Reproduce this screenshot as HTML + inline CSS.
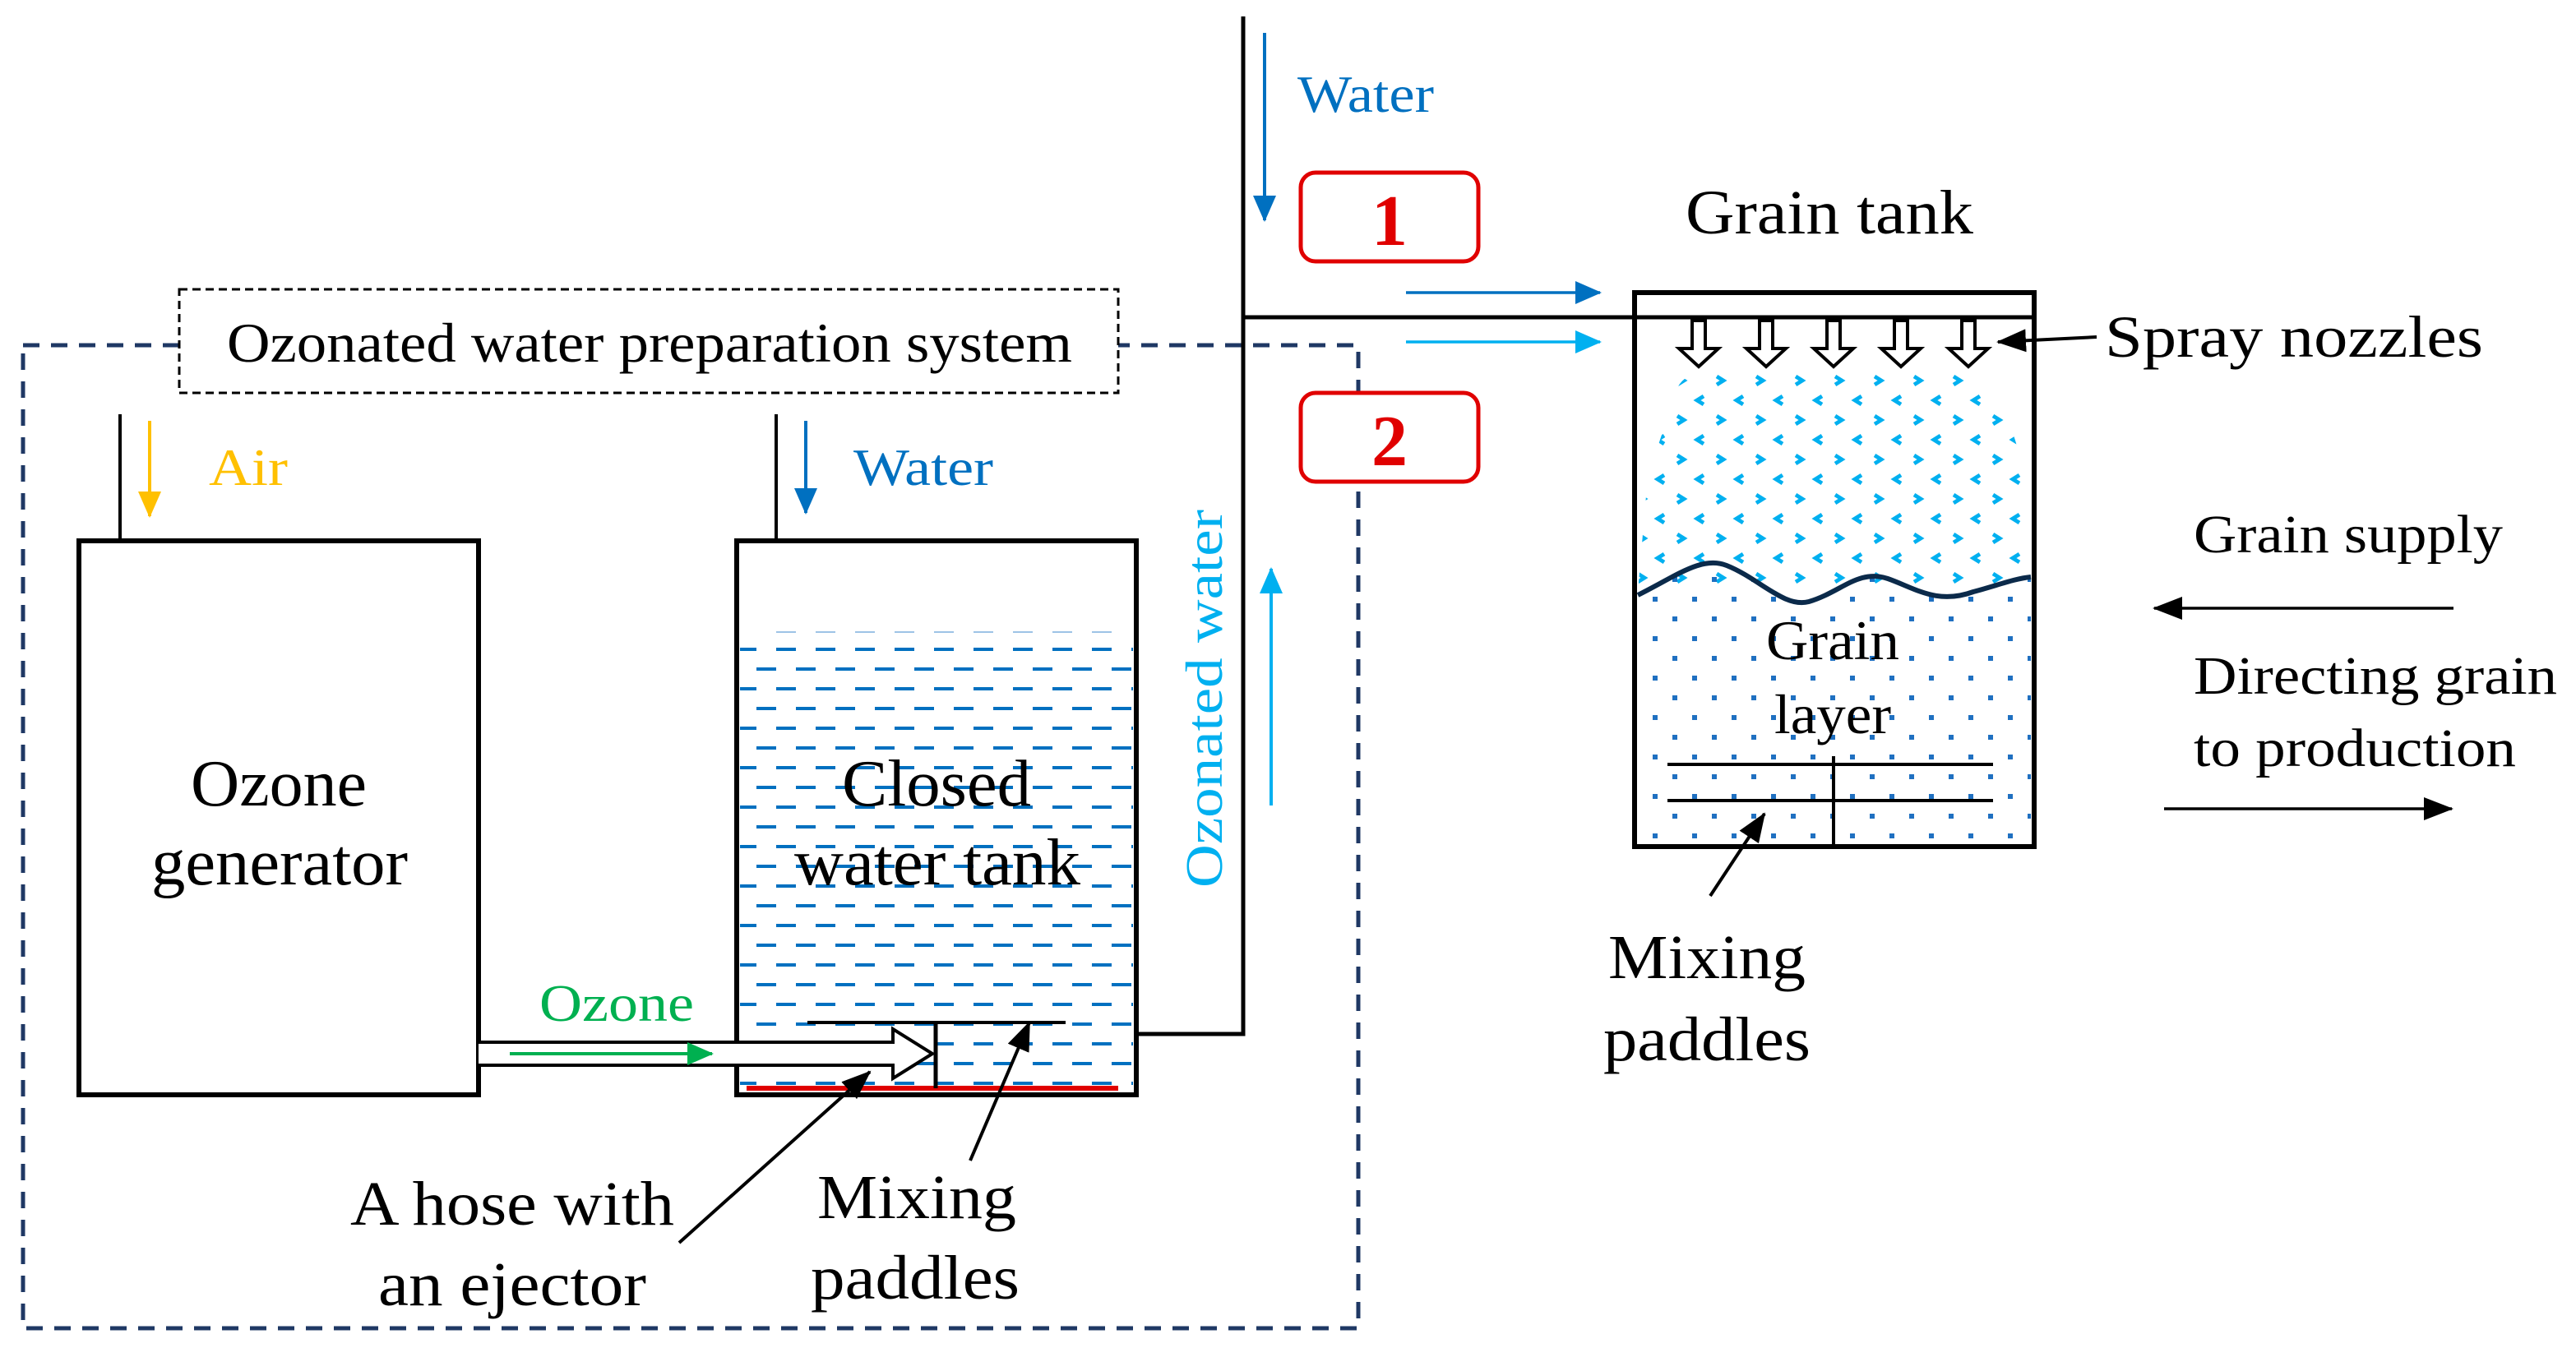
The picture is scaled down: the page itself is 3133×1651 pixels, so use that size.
<!DOCTYPE html>
<html><head><meta charset="utf-8"><style>html,body{margin:0;padding:0;background:#fff}svg{display:block}</style></head>
<body>
<svg width="3133" height="1651" viewBox="0 0 1566.5 825.5" xmlns="http://www.w3.org/2000/svg" font-family="Liberation Serif, serif" lengthAdjust="spacingAndGlyphs">
<defs>
<marker id="ab" markerWidth="16" markerHeight="14" refX="15" refY="7" orient="auto" markerUnits="userSpaceOnUse" viewBox="0 0 16 14"><path d="M0,0L16,7L0,14z" fill="#0070c0"/></marker>
<marker id="al" markerWidth="16" markerHeight="14" refX="15" refY="7" orient="auto" markerUnits="userSpaceOnUse" viewBox="0 0 16 14"><path d="M0,0L16,7L0,14z" fill="#00b0f0"/></marker>
<marker id="ao" markerWidth="16" markerHeight="14" refX="15" refY="7" orient="auto" markerUnits="userSpaceOnUse" viewBox="0 0 16 14"><path d="M0,0L16,7L0,14z" fill="#ffc000"/></marker>
<marker id="ag" markerWidth="16" markerHeight="14" refX="15" refY="7" orient="auto" markerUnits="userSpaceOnUse" viewBox="0 0 16 14"><path d="M0,0L16,7L0,14z" fill="#00b050"/></marker>
<marker id="ak" markerWidth="18" markerHeight="14" refX="17" refY="7" orient="auto" markerUnits="userSpaceOnUse" viewBox="0 0 18 14"><path d="M0,0L18,7L0,14z" fill="#000"/></marker>
<pattern id="wd" x="448" y="394" width="24" height="24" patternUnits="userSpaceOnUse">
<rect x="0" y="0" width="12" height="2" fill="#0070c0"/><rect x="12" y="12" width="12" height="2" fill="#0070c0"/>
</pattern>
<pattern id="sp" x="994" y="228" width="24" height="24" patternUnits="userSpaceOnUse">
<path d="M2,1l4,2.5l-4,2.5" stroke="#00b0f0" stroke-width="2.4" fill="none"/><path d="M18,13l-4,2.5l4,2.5" stroke="#00b0f0" stroke-width="2.4" fill="none"/>
</pattern>
<pattern id="gd" x="994" y="360" width="24" height="24" patternUnits="userSpaceOnUse">
<rect x="11" y="3" width="3" height="3" fill="#1f70c1"/><rect x="23" y="15" width="3" height="3" fill="#1f70c1"/><rect x="-1" y="15" width="3" height="3" fill="#1f70c1"/>
</pattern>
<clipPath id="spc"><path d="M1020,236 Q1025,226 1040,226 L1200,226 Q1225,245 1232,300 L1235,355 L996,360 L1002,290 Z"/></clipPath>
<clipPath id="gdc"><path d="M996,362 C1020,350 1035,338 1050,344 C1070,352 1085,370 1100,366 C1120,360 1130,346 1148,352 C1165,358 1178,368 1200,360 C1215,356 1225,352 1235,351 L1235,513 L996,513 Z"/></clipPath>
</defs>

<rect x="14" y="210" width="812" height="598" fill="none" stroke="#1f3864" stroke-width="2.5" stroke-dasharray="10,7"/>
<rect x="109" y="176" width="571" height="63" fill="#fff" stroke="#000" stroke-width="1.5" stroke-dasharray="5,3"/>
<text x="138" y="220" font-size="34" textLength="514" lengthAdjust="spacingAndGlyphs">Ozonated water preparation system</text>

<line x1="73" y1="252" x2="73" y2="329" stroke="#000" stroke-width="2"/>
<line x1="91" y1="256" x2="91" y2="314" stroke="#ffc000" stroke-width="2" marker-end="url(#ao)"/>
<text x="127" y="295" font-size="32" fill="#ffc000" textLength="48" lengthAdjust="spacingAndGlyphs">Air</text>
<rect x="48" y="329" width="243" height="337" fill="#fff" stroke="#000" stroke-width="3"/>
<text x="116" y="490" font-size="40" textLength="107" lengthAdjust="spacingAndGlyphs">Ozone</text>
<text x="92" y="538" font-size="40" textLength="156" lengthAdjust="spacingAndGlyphs">generator</text>

<line x1="472" y1="252" x2="472" y2="329" stroke="#000" stroke-width="2"/>
<line x1="490" y1="256" x2="490" y2="312" stroke="#0070c0" stroke-width="2" marker-end="url(#ab)"/>
<text x="519" y="295" font-size="32" fill="#0070c0" textLength="85" lengthAdjust="spacingAndGlyphs">Water</text>
<rect x="448" y="329" width="243" height="337" fill="#fff" stroke="#000" stroke-width="3"/>
<line x1="460" y1="384.5" x2="688" y2="384.5" stroke="#9dc3e6" stroke-width="1" stroke-dasharray="12,12" stroke-dashoffset="-12"/>
<rect x="450" y="394" width="239" height="268" fill="url(#wd)"/>
<text x="512" y="490" font-size="40" textLength="115" lengthAdjust="spacingAndGlyphs">Closed</text>
<text x="483" y="538" font-size="40" textLength="174" lengthAdjust="spacingAndGlyphs">water tank</text>
<line x1="454" y1="662" x2="680" y2="662" stroke="#e00000" stroke-width="3"/>
<path d="M291,634 L543,634 L543,626 L567,641 L543,656 L543,648 L291,648" fill="#fff" stroke="#000" stroke-width="2"/>
<line x1="569" y1="621" x2="569" y2="662" stroke="#000" stroke-width="2.5"/>
<line x1="491" y1="622" x2="648" y2="622" stroke="#000" stroke-width="2"/>
<text x="328" y="621" font-size="32" fill="#00b050" textLength="94" lengthAdjust="spacingAndGlyphs">Ozone</text>
<line x1="310" y1="641" x2="433" y2="641" stroke="#00b050" stroke-width="2" marker-end="url(#ag)"/>

<polyline points="691,629 756,629 756,10" fill="none" stroke="#000" stroke-width="2.5"/>
<line x1="756" y1="193" x2="1237" y2="193" stroke="#000" stroke-width="2.5"/>
<line x1="769" y1="20" x2="769" y2="134" stroke="#0070c0" stroke-width="2" marker-end="url(#ab)"/>
<text x="789" y="68" font-size="32" fill="#0070c0" textLength="83" lengthAdjust="spacingAndGlyphs">Water</text>
<rect x="791" y="105" width="108" height="54" rx="9" fill="#fff" stroke="#e00000" stroke-width="2.5"/>
<text x="845" y="149" font-size="44" font-weight="bold" fill="#e00000" text-anchor="middle">1</text>
<rect x="791" y="239" width="108" height="54" rx="9" fill="#fff" stroke="#e00000" stroke-width="2.5"/>
<text x="845" y="283" font-size="44" font-weight="bold" fill="#e00000" text-anchor="middle">2</text>
<line x1="855" y1="178" x2="973" y2="178" stroke="#0070c0" stroke-width="1.8" marker-end="url(#ab)"/>
<line x1="855" y1="208" x2="973" y2="208" stroke="#00b0f0" stroke-width="1.8" marker-end="url(#al)"/>
<text transform="translate(743,540) rotate(-90)" font-size="32" fill="#00b0f0" textLength="230" lengthAdjust="spacingAndGlyphs">Ozonated water</text>
<line x1="773" y1="490" x2="773" y2="346" stroke="#00b0f0" stroke-width="2" marker-end="url(#al)"/>

<text x="1025" y="142" font-size="38" textLength="175" lengthAdjust="spacingAndGlyphs">Grain tank</text>
<rect x="994" y="178" width="243" height="337" fill="none" stroke="#000" stroke-width="3"/>
<rect x="994" y="226" width="243" height="137" fill="url(#sp)" clip-path="url(#spc)"/>
<rect x="994" y="340" width="243" height="175" fill="url(#gd)" clip-path="url(#gdc)"/>
<path d="M996,362 C1020,350 1035,338 1050,344 C1070,352 1085,370 1100,366 C1120,360 1130,346 1148,352 C1165,358 1178,368 1200,360 C1215,356 1225,352 1235,351" fill="none" stroke="#0b2a4a" stroke-width="3"/>
<g fill="#fff" stroke="#000" stroke-width="2">
<path d="M1029,195 h8 v17 h8 l-12,11 l-12,-11 h8z"/>
<path d="M1070,195 h8 v17 h8 l-12,11 l-12,-11 h8z"/>
<path d="M1111,195 h8 v17 h8 l-12,11 l-12,-11 h8z"/>
<path d="M1152,195 h8 v17 h8 l-12,11 l-12,-11 h8z"/>
<path d="M1193,195 h8 v17 h8 l-12,11 l-12,-11 h8z"/>
</g>
<text x="1280" y="217" font-size="36" textLength="230" lengthAdjust="spacingAndGlyphs">Spray nozzles</text>
<line x1="1275" y1="205" x2="1215" y2="208" stroke="#000" stroke-width="2" marker-end="url(#ak)"/>
<text x="1074" y="401" font-size="34" textLength="81" lengthAdjust="spacingAndGlyphs">Grain</text>
<text x="1079" y="446" font-size="34" textLength="71" lengthAdjust="spacingAndGlyphs">layer</text>
<line x1="1014" y1="465" x2="1212" y2="465" stroke="#000" stroke-width="2"/>
<line x1="1014" y1="487" x2="1212" y2="487" stroke="#000" stroke-width="2"/>
<line x1="1115" y1="460" x2="1115" y2="515" stroke="#000" stroke-width="2"/>
<line x1="1040" y1="545" x2="1073" y2="495" stroke="#000" stroke-width="2" marker-end="url(#ak)"/>
<text x="978" y="595" font-size="38" textLength="120" lengthAdjust="spacingAndGlyphs">Mixing</text>
<text x="975" y="645" font-size="38" textLength="126" lengthAdjust="spacingAndGlyphs">paddles</text>

<line x1="590" y1="706" x2="626" y2="622" stroke="#000" stroke-width="2" marker-end="url(#ak)"/>
<text x="497" y="741" font-size="38" textLength="121" lengthAdjust="spacingAndGlyphs">Mixing</text>
<text x="493" y="790" font-size="38" textLength="127" lengthAdjust="spacingAndGlyphs">paddles</text>
<line x1="413" y1="756" x2="529" y2="652" stroke="#000" stroke-width="2" marker-end="url(#ak)"/>
<text x="213" y="745" font-size="38" textLength="197" lengthAdjust="spacingAndGlyphs">A hose with</text>
<text x="230" y="794" font-size="38" textLength="163" lengthAdjust="spacingAndGlyphs">an ejector</text>

<text x="1334" y="336" font-size="33" textLength="188" lengthAdjust="spacingAndGlyphs">Grain supply</text>
<line x1="1492" y1="370" x2="1310" y2="370" stroke="#000" stroke-width="1.8" marker-end="url(#ak)"/>
<text x="1334" y="422" font-size="33" textLength="221" lengthAdjust="spacingAndGlyphs">Directing grain</text>
<text x="1334" y="466" font-size="33" textLength="196" lengthAdjust="spacingAndGlyphs">to production</text>
<line x1="1316" y1="492" x2="1491" y2="492" stroke="#000" stroke-width="1.8" marker-end="url(#ak)"/>
</svg>
</body></html>
